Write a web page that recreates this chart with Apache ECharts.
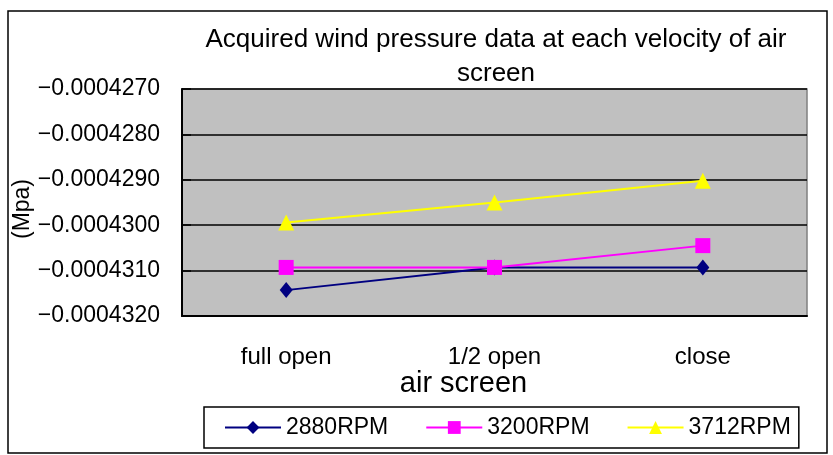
<!DOCTYPE html>
<html>
<head>
<meta charset="utf-8">
<script src="https://cdn.jsdelivr.net/npm/echarts@6/dist/echarts.min.js"></script>
<style>
  html, body { margin: 0; padding: 0; background: #fff; }
  #chart { width: 833px; height: 455px; }
</style>
</head>
<body>
<div id="chart"></div>
<script>
// Air screen positions along the x axis
const categories = ['full open', '1/2 open', 'close'];
// Wind pressure (MPa) per fan speed
const rpm2880 = [-0.00043143, -0.00043093, -0.00043093];
const rpm3200 = [-0.00043093, -0.00043093, -0.00043045];
const rpm3712 = [-0.00042994, -0.0004295, -0.00042902];
const seriesNames = ['2880RPM', '3200RPM', '3712RPM'];
const yAxisTitle = '(Mpa)';

const FONT = '"Liberation Sans", Arial, sans-serif';

const chart = echarts.init(document.getElementById('chart'), null, { renderer: 'canvas' });

function lineSeries(name, data, color, symbol, size) {
  return {
    name: name,
    type: 'line',
    data: data,
    symbol: symbol,
    symbolSize: size,
    lineStyle: { color: color, width: 2 },
    itemStyle: { color: color },
    animation: false
  };
}

chart.setOption({
  backgroundColor: '#fff',
  animation: false,
  title: {
    text: 'Acquired wind pressure data at each velocity of air\nscreen',
    left: 491,
    textAlign: 'center',
    top: 18,
    textStyle: { fontFamily: FONT, fontWeight: 'normal', fontSize: 26, color: '#000', lineHeight: 34 }
  },
  legend: {
    data: seriesNames,
    left: 204,
    top: 407,
    width: 596,
    height: 41,
    padding: [9, 8, 9, 20],
    itemGap: 37,
    itemWidth: 56,
    itemHeight: 16,
    borderColor: '#000',
    borderWidth: 1.5,
    textStyle: { fontFamily: FONT, fontSize: 23, color: '#000' }
  },
  grid: {
    left: 182,
    right: 26,
    top: 89,
    bottom: 139,
    containLabel: false,
    outerBoundsMode: 'none',
    show: true,
    backgroundColor: '#C0C0C0',
    borderColor: '#808080',
    borderWidth: 1.5
  },
  xAxis: {
    type: 'category',
    data: categories,
    boundaryGap: true,
    name: 'air screen',
    nameLocation: 'middle',
    nameGap: 53,
    nameTextStyle: { fontFamily: FONT, fontSize: 29, color: '#000', padding: [0, 62, 0, 0] },
    axisLine: { lineStyle: { color: '#000', width: 2 } },
    axisTick: { inside: true, length: 9, lineStyle: { color: '#000', width: 1.5 } },
    axisLabel: { margin: 29, fontFamily: FONT, fontSize: 24, color: '#000' },
    splitLine: { show: false }
  },
  yAxis: {
    type: 'value',
    min: -0.000432,
    max: -0.000427,
    interval: 0.000001,
    axisLine: { show: true, lineStyle: { color: '#000', width: 2 } },
    axisTick: { show: true, inside: true, length: 9, lineStyle: { color: '#000', width: 1.5 } },
    axisLabel: {
      margin: 22,
      fontFamily: FONT,
      fontSize: 23,
      color: '#000',
      formatter: function (v) {
        return (v < 0 ? '\u2212' : '') + Math.abs(v).toFixed(7);
      }
    },
    splitLine: { show: true, lineStyle: { color: '#000', width: 1.5 } }
  },
  graphic: [{
    type: 'rect',
    shape: { x: 8, y: 11, width: 819, height: 442 },
    style: { fill: 'none', stroke: '#000', lineWidth: 1.5 },
    silent: true,
    z: -1
  }, {
    type: 'text',
    x: 23,
    y: 209,
    rotation: Math.PI / 2,
    style: {
      text: yAxisTitle,
      fontFamily: FONT,
      fontSize: 23,
      fill: '#000',
      align: 'center',
      verticalAlign: 'middle'
    },
    silent: true
  }],
  series: [
    lineSeries(seriesNames[0], rpm2880, '#000080', 'diamond', [13, 16]),
    lineSeries(seriesNames[1], rpm3200, '#FF00FF', 'rect', 15),
    lineSeries(seriesNames[2], rpm3712, '#FFFF00', 'triangle', 16)
  ]
});
</script>
</body>
</html>
